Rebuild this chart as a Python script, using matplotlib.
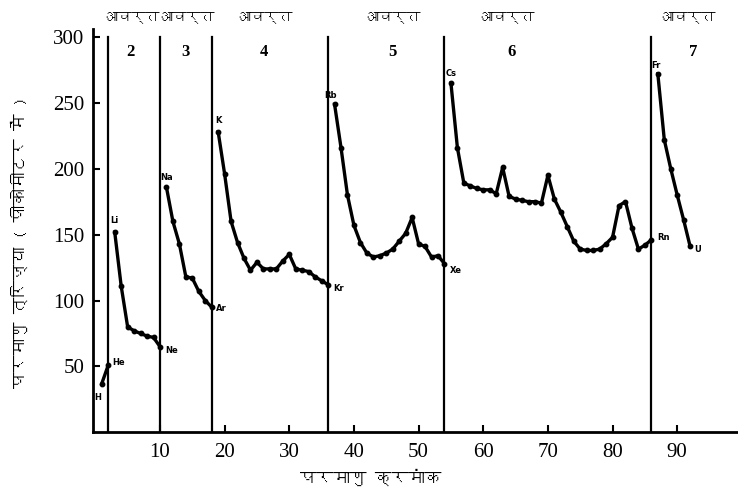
import matplotlib
matplotlib.use("Agg")
import matplotlib.pyplot as plt
from matplotlib import font_manager
from matplotlib.ft2font import FT2Font

# atomic radius (pm), one list per period
period1 = [37, 51]
period2 = [152, 111, 80, 77, 75, 73, 72, 65]
period3 = [186, 160, 143, 118, 117, 107, 100, 95]
period4 = [228, 196, 160, 144, 132, 123, 129, 124, 124, 124, 130, 135,
           124, 123, 122, 118, 115, 112]
period5 = [249, 216, 180, 157, 144, 136, 133, 134, 136, 139, 145, 151,
           163, 143, 141, 133, 134, 128]
period6 = [265, 216, 189, 187, 185, 184, 184, 181, 201, 179, 177, 176,
           175, 175, 174, 195, 177, 167, 156, 145, 139, 138, 138, 139,
           143, 148, 172, 175, 155, 139, 142, 146]
period7 = [272, 222, 200, 180, 161, 141]
periods = [period1, period2, period3, period4, period5, period6, period7]
period_start = [1, 3, 11, 19, 37, 55, 87]
boundaries = [2, 10, 18, 36, 54, 86]

element_labels = {1: "H", 2: "He", 3: "Li", 10: "Ne", 11: "Na", 18: "Ar",
                  19: "K", 36: "Kr", 37: "Rb", 54: "Xe", 55: "Cs",
                  86: "Rn", 87: "Fr", 92: "U"}
y_ticks = [50, 100, 150, 200, 250, 300]
x_ticks = [10, 20, 30, 40, 50, 60, 70, 80, 90]
period_names = ["2", "3", "4", "5", "6", "7"]
period_word = "आवर्त"
x_title = "परमाणु क्रमांक"
y_title = "परमाणु त्रिज्या ( पीकोमीटर में )"


def find_font(ch):
    # first installed font that has a glyph for ch
    for f in font_manager.fontManager.ttflist:
        try:
            if ord(ch) in FT2Font(f.fname).get_charmap():
                return f.name
        except Exception:
            pass
    return "DejaVu Sans"


deva = [find_font("आ"), "DejaVu Sans"]

fig = plt.figure(figsize=(7.38, 4.92), dpi=100)
ax = fig.add_axes([0.126, 0.1213, 0.874, 0.8197])

all_x = []
all_y = []
for start, vals in zip(period_start, periods):
    xs = list(range(start, start + len(vals)))
    ax.plot(xs, vals, color="black", lw=2.4, marker="o", ms=3.2,
            solid_joinstyle="round")
    all_x += xs
    all_y += vals

for b in boundaries:
    ax.plot([b, b], [0, 300], color="black", lw=1.6)

# small element symbols
offsets = {"H": (-3, -10), "He": (3, 2), "Li": (0, 8), "Ne": (4, -3),
           "Na": (0, 7), "Ar": (3, -1), "K": (0, 8), "Kr": (4, -3),
           "Rb": (-3, 6), "Xe": (4, -5), "Cs": (0, 7), "Rn": (4, 2),
           "Fr": (-1, 6), "U": (3, -2)}
for z, name in element_labels.items():
    y = all_y[all_x.index(z)]
    dx, dy = offsets[name]
    ax.annotate(name, (z, y), xytext=(dx, dy), textcoords="offset points",
                ha="left" if dx > 0 else "center", va="center",
                fontsize=6, fontweight="bold", family="DejaVu Sans")

# period headings above the plot
word_x = [5.6, 14.2, 26.2, 46, 63.6, 91.6]
num_x = [5.4, 14.0, 26, 46, 64.4, 92.5]
for wx, nx, name in zip(word_x, num_x, period_names):
    ax.text(wx, 1.03, period_word, transform=ax.get_xaxis_transform(),
            ha="center", va="center", fontsize=10, fontweight="bold",
            family=deva, clip_on=False)
    ax.text(nx, 0.943, name, transform=ax.get_xaxis_transform(),
            ha="center", va="center", fontsize=12, fontweight="bold",
            family="Liberation Serif")

ax.set_xlim(-0.36, 99.4)
ax.set_ylim(0, 306)
ax.set_xticks(x_ticks)
ax.set_yticks(y_ticks)
ax.tick_params(direction="in", length=5, width=1.5, labelsize=15)
for lab in ax.get_xticklabels() + ax.get_yticklabels():
    lab.set_family("Liberation Serif")
ax.tick_params(axis="x", pad=8)
ax.tick_params(axis="y", pad=6)
ax.spines["top"].set_visible(False)
ax.spines["right"].set_visible(False)
ax.spines["left"].set_linewidth(2)
ax.spines["bottom"].set_linewidth(2)

ax.set_xlabel(x_title, family=deva, fontsize=12, fontweight="bold")
ax.set_ylabel(y_title, family=deva, fontsize=12, fontweight="bold")
ax.xaxis.set_label_coords(0.43, -0.09)
ax.yaxis.set_label_coords(-0.1, 0.47)

fig.savefig("out.png", dpi=100)
